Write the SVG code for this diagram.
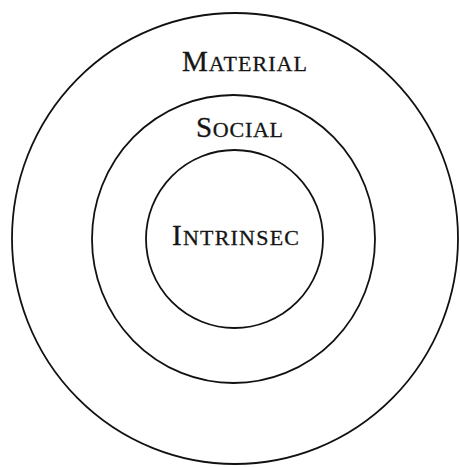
<svg xmlns="http://www.w3.org/2000/svg" width="460" height="467" viewBox="0 0 460 467">
<style>
.ring{fill:none;stroke:#111111;stroke-width:1.8}
.lbl{font-family:"Liberation Serif","Times New Roman",serif;fill:#151515;font-size:22px;stroke:#151515;stroke-width:0.3}
.cap{font-size:29px}
</style>
<rect width="460" height="467" fill="#ffffff"/>
<g id="material">
<ellipse class="ring" cx="235" cy="238.5" rx="223" ry="225.5"/>
<text class="lbl" x="182" y="71" textLength="125" lengthAdjust="spacing"><tspan class="cap">M</tspan>ATERIAL</text>
</g>
<g id="social">
<ellipse class="ring" cx="233.5" cy="239" rx="141.5" ry="144"/>
<text class="lbl" x="196" y="137" textLength="87" lengthAdjust="spacing"><tspan class="cap">S</tspan>OCIAL</text>
</g>
<g id="intrinsec">
<ellipse class="ring" cx="234.5" cy="239" rx="88.5" ry="89"/>
<text class="lbl" x="172" y="245" textLength="127" lengthAdjust="spacing"><tspan class="cap">I</tspan>NTRINSEC</text>
</g>
<g id="connectors"/>
</svg>
